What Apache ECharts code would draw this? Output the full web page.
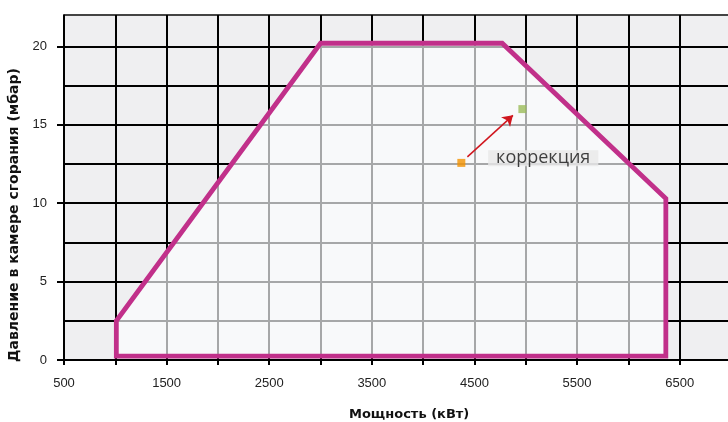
<!DOCTYPE html>
<html><head><meta charset="utf-8">
<script src="https://cdn.jsdelivr.net/npm/echarts@6/dist/echarts.min.js"></script>
<style>html,body{margin:0;padding:0;background:#fff}#c{width:728px;height:422px}</style>
</head><body><div id="c"></div>
<script>
// Operating envelope (power kW, pressure mbar)
const polyX = [1010, 1010, 3000, 4770, 6365, 6365];
const polyY = [0.25, 2.5, 20.2, 20.2, 10.3, 0.25];
// Correction points
const pointBefore = [4372, 12.57];
const pointAfter = [4967, 16.0];
const arrowFrom = [4431, 12.95];
const arrowTo = [4875, 15.6];
const labelPos = [5170, 12.87];
const labelText = 'коррекция';
// Tick labels
const xLabelValues = [500, 1500, 2500, 3500, 4500, 5500, 6500];
const yLabelValues = [0, 5, 10, 15, 20];
const xTitle = 'Мощность (кВт)';
const yTitle = 'Давление в камере сгорания (мбар)';

const chart = echarts.init(document.getElementById('c'), null, {renderer: 'canvas'});
const polyData = polyX.map((x, i) => [x, polyY[i]]);
chart.setOption({
  animation: false,
  grid: {left: 64, width: 667, top: 15, bottom: 62, show: true, outerBoundsMode: 'none', containLabel: false,
    backgroundColor: '#efeff1', borderColor: '#444', borderWidth: 1.5},
  xAxis: {
    type: 'value', min: 500, max: 7000, interval: 500,
    axisLine: {show: true, lineStyle: {color: '#000', width: 1.5}},
    axisTick: {show: true, length: 5, lineStyle: {color: '#000', width: 2}},
    axisLabel: {margin: 17, fontFamily: 'Liberation Sans', fontSize: 13, color: '#222',
      formatter: v => xLabelValues.includes(v) ? String(v) : ''},
    splitLine: {show: true, lineStyle: {color: '#000', width: 2}}
  },
  yAxis: [{
    type: 'value', min: 0, max: 22, interval: 2.5,
    axisLine: {show: true, lineStyle: {color: '#000', width: 1.5}},
    axisTick: {show: false},
    axisLabel: {margin: 17, fontFamily: 'Liberation Sans', fontSize: 13, color: '#222',
      formatter: v => yLabelValues.includes(v) ? String(v) : ''},
    splitLine: {show: true, lineStyle: {color: ['#000', '#000', '#000', '#000', '#000', '#000', '#000', '#000', '#000', '#444'], width: 2}}
  }, {
    type: 'value', min: 0, max: 22, interval: 5, position: 'left',
    axisLine: {show: false},
    axisTick: {show: true, length: 7, customValues: yLabelValues, lineStyle: {color: '#000', width: 2}},
    axisLabel: {show: false},
    splitLine: {show: false}
  }],
  graphic: [
    {type: 'text', left: 349, top: 408, style: {text: xTitle, fontFamily: 'DejaVu Sans', fontWeight: 'bold', fontSize: 13, fill: '#111'}},
    {type: 'text', x: 14, y: 215, rotation: Math.PI / 2,
      style: {text: yTitle, fontFamily: 'DejaVu Sans', fontWeight: 'bold', fontSize: 14, fill: '#111', align: 'center', verticalAlign: 'middle'}}
  ],
  series: [
    {
      type: 'custom', data: polyData, z: 3,
      renderItem: (params, api) => {
        if (params.dataIndex !== 0) return null;
        const pts = polyData.map(p => api.coord(p));
        return {type: 'polygon', shape: {points: pts},
          style: {fill: 'rgba(252,253,255,0.66)', stroke: '#c1308a', lineWidth: 4.8, lineJoin: 'miter'}};
      }
    },
    {
      type: 'lines', coordinateSystem: 'cartesian2d', z: 5,
      symbol: ['none', 'arrow'], symbolSize: 10,
      lineStyle: {color: '#d0161e', width: 1.5, opacity: 1},
      data: [{coords: [arrowFrom, arrowTo]}]
    },
    {type: 'scatter', symbol: 'rect', symbolSize: 8, z: 6, itemStyle: {color: '#f39200'}, data: [pointBefore]},
    {type: 'scatter', symbol: 'rect', symbolSize: 8, z: 6, itemStyle: {color: '#9bbb59'}, data: [pointAfter]},
    {type: 'scatter', symbolSize: 0, z: 6, data: [labelPos],
      label: {show: true, position: 'inside', formatter: labelText, fontFamily: 'Open Sans', fontSize: 18,
        color: '#111', backgroundColor: '#e8e8e8', padding: [0, 8], lineHeight: 16}}
  ]
});
</script></body></html>
